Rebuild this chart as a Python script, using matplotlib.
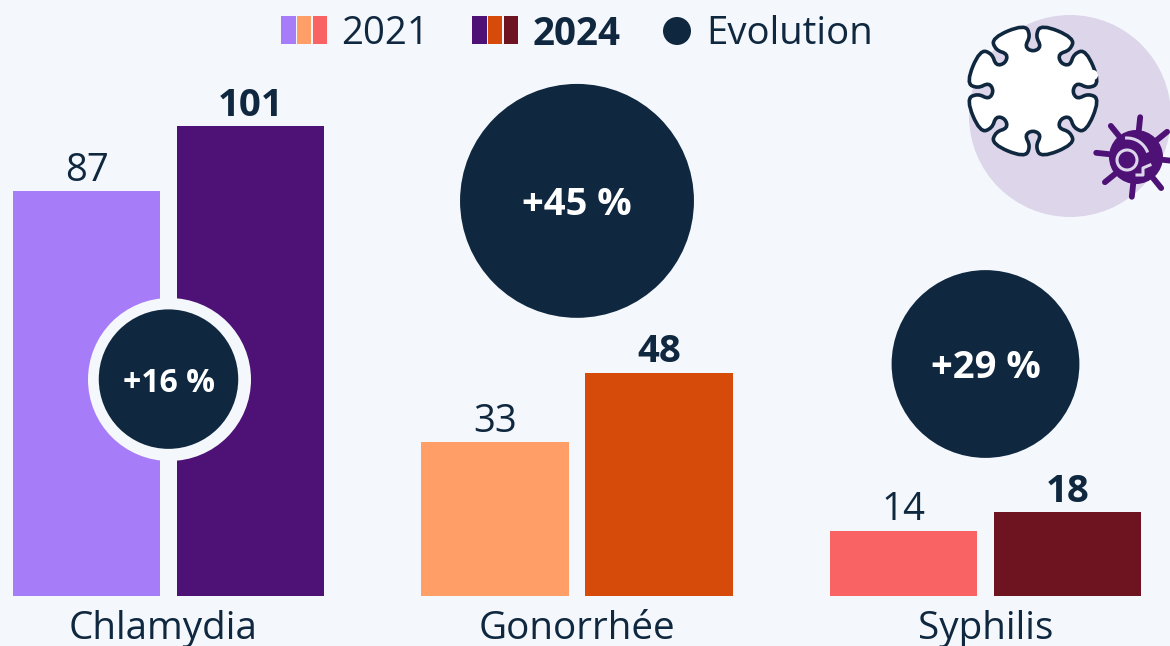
#!/usr/bin/env python
import numpy as np
import matplotlib.pyplot as plt
from matplotlib.patches import Circle, Arc, Rectangle, PathPatch
from matplotlib.path import Path

categories = ['Chlamydia', 'Gonorrhée', 'Syphilis']
cases_2021 = [87, 33, 14]
cases_2024 = [101, 48, 18]
evolution = [16, 45, 29]
legend_labels = ['2021', '2024', 'Evolution']

plt.rcParams['font.family'] = ['Open Sans', 'DejaVu Sans']

bg = '#F4F8FC'
navy = '#10283F'
colors_2021 = ['#A67CF8', '#FF9E66', '#F96363']
colors_2024 = ['#4E1277', '#D64B0A', '#6E1320']
lavender = '#DDD5EA'

W, H = 1170, 646
base_px = 596
px_per_unit = 4.654   # bar height scale
group_px = 408.5
first_px = 168.5
bar_px = 147.5
gap_px = 16.5

fig = plt.figure(figsize=(W / 100, H / 100), dpi=100, facecolor=bg)

# bars
ax = fig.add_axes([0, (H - base_px) / H, 1, base_px / H])
ax.set_facecolor(bg)
ax.set_xlim(-first_px / group_px, (W - first_px) / group_px)
ax.set_ylim(0, base_px / px_per_unit)
ax.axis('off')

ind = np.arange(len(categories))
barwidth = bar_px / group_px
offset = (bar_px + gap_px) / 2 / group_px
ax.bar(ind - offset, cases_2021, barwidth, color=colors_2021)
ax.bar(ind + offset, cases_2024, barwidth, color=colors_2024)

for i in ind:
    ax.annotate(str(cases_2021[i]), (i - offset, cases_2021[i]), xytext=(0, 1),
                textcoords='offset points', ha='center', va='bottom',
                fontsize=27.6, color=navy)
    ax.annotate(str(cases_2024[i]), (i + offset, cases_2024[i]), xytext=(0, 1),
                textcoords='offset points', ha='center', va='bottom',
                fontsize=27.6, color=navy, fontweight='bold')
    # first label sits a little left of its group in the original
    ax.annotate(categories[i], (i, 0), xytext=(-4 if i == 0 else 0, -24),
                textcoords='offset points', ha='center', va='center',
                fontsize=27.8, color=navy, clip_on=False)

# evolution bubbles, area follows the percentage
bubble_y = [46.6, 84.9, 49.85]
area_px = 304.0
radii = [np.sqrt(e * area_px) for e in evolution]
sizes = [(2 * r * 0.72) ** 2 for r in radii]
ring = (2 * 81.5 * 0.72) ** 2
ax.scatter([0], bubble_y[:1], s=ring, color=bg, linewidths=0, zorder=3)
ax.scatter(ind, bubble_y, s=sizes, color=navy, linewidths=0, zorder=4)
label_sizes = [23, 27.5, 27.5]
for i in ind:
    ax.text(i, bubble_y[i], '+%d %%' % evolution[i], ha='center', va='center_baseline',
            color='white', fontweight='bold', fontsize=label_sizes[i], zorder=5)

# overlay in pixels for legend and icon
ov = fig.add_axes([0, 0, 1, 1])
ov.patch.set_alpha(0)
ov.set_xlim(0, W)
ov.set_ylim(H, 0)
ov.axis('off')

for start, cols in ((281, colors_2021), (472, colors_2024)):
    for k, c in enumerate(cols):
        ov.add_patch(Rectangle((start + k * 15.8, 16), 14.5, 28, color=c, lw=0))
ov.text(341, 30, legend_labels[0], va='center_baseline', fontsize=27.6, color=navy)
ov.text(533, 30, legend_labels[1], va='center_baseline', fontsize=27.8, color=navy, fontweight='bold')
ov.add_patch(Circle((677, 31), 14, color=navy, lw=0))
ov.text(706, 30, legend_labels[2], va='center_baseline', fontsize=27.6, color=navy)

# virus icon
ov.add_patch(Circle((1070, 116), 101, color=lavender, lw=0))
cx, cy = 1033, 91
spike = [(44, -9), (52, -19), (65, -18), (65, 18), (52, 19), (44, 9), (36, 15)]
ctrl = []
for a in np.radians(22.5 + 45 * np.arange(8)):
    ux, uy = np.cos(a), np.sin(a)
    for along, across in spike:
        ctrl.append((cx + along * ux - across * uy, cy + along * uy + across * ux))
ctrl = np.array(ctrl)
mids = (ctrl + np.roll(ctrl, -1, axis=0)) / 2
verts = [mids[-1]]
codes = [Path.MOVETO]
for c, m in zip(ctrl, mids):
    verts += [c, m]
    codes += [Path.CURVE3, Path.CURVE3]
ov.add_patch(PathPatch(Path(verts, codes), fc='white', ec=navy, lw=2.6, zorder=6))
ov.add_patch(Circle((1093, 75), 5, color='white', lw=0, zorder=7))

# small germ
gx, gy = 1136, 157
purple = colors_2024[0]
for a in np.radians(6 + 45 * np.arange(8)):
    ov.plot([gx, gx + 40 * np.cos(a)], [gy, gy + 40 * np.sin(a)], color=purple,
            lw=4.2, solid_capstyle='round', zorder=8)
ov.add_patch(Circle((gx, gy), 27, color=purple, lw=0, zorder=8))
ov.add_patch(Circle((1127, 160), 10, fc='none', ec=lavender, lw=2.2, zorder=9))
ov.add_patch(Arc((1127, 160), 44, 44, theta1=-95, theta2=-20, color=lavender, lw=2.2, zorder=9))
ov.plot([1137, 1143, 1143, 1150], [175, 175, 168, 165], color=lavender, lw=2.2, zorder=9)

plt.savefig('out.png', dpi=100, facecolor=bg)
